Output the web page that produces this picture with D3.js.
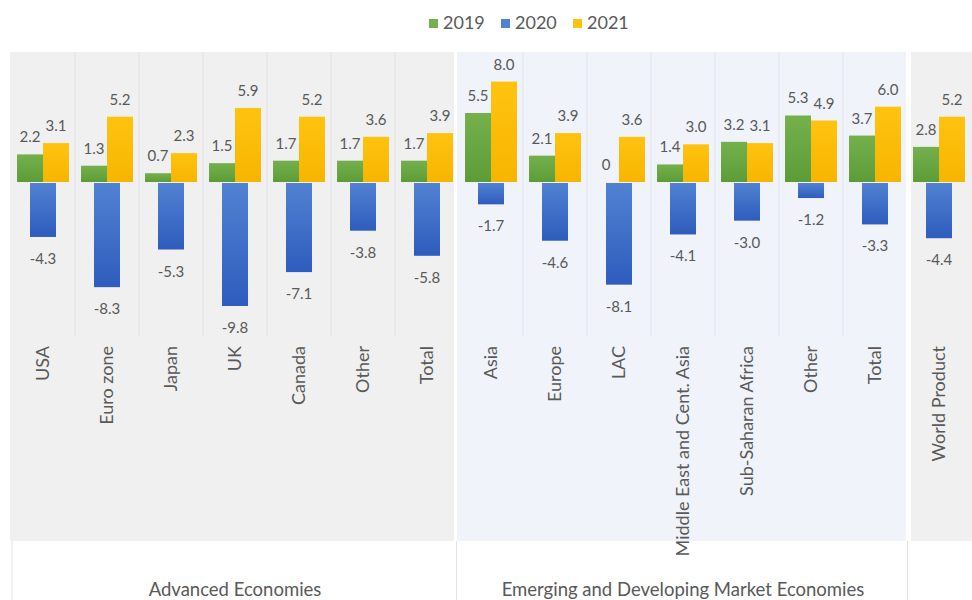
<!DOCTYPE html>
<html>
<head>
<meta charset="utf-8">
<script src="https://cdn.jsdelivr.net/npm/d3@7"></script>
<style>
  html, body { margin: 0; padding: 0; background: #ffffff; }
  svg { display: block; }
  text { font-family: Lato, "Open Sans", sans-serif; fill: #595959; }
</style>
</head>
<body>
<svg id="chart" width="972" height="600"></svg>
<script>
// Real GDP growth (%) by region, 2019–2021
const categories = ["USA", "Euro zone", "Japan", "UK", "Canada", "Other", "Total",
  "Asia", "Europe", "LAC", "Middle East and Cent. Asia", "Sub-Saharan Africa", "Other", "Total",
  "World Product"];
const groupNames = ["Advanced Economies", "Emerging and Developing Market Economies", ""];
const groupSizes = [7, 7, 1];
const seriesNames = ["2019", "2020", "2021"];
const values2019 = [2.2, 1.3, 0.7, 1.5, 1.7, 1.7, 1.7, 5.5, 2.1, 0, 1.4, 3.2, 5.3, 3.7, 2.8];
const values2020 = [-4.3, -8.3, -5.3, -9.8, -7.1, -3.8, -5.8, -1.7, -4.6, -8.1, -4.1, -3.0, -1.2, -3.3, -4.4];
const values2021 = [3.1, 5.2, 2.3, 5.9, 5.2, 3.6, 3.9, 8.0, 3.9, 3.6, 3.0, 3.1, 4.9, 6.0, 5.2];

const seriesValues = [values2019, values2020, values2021];
const seriesColors = [
  { top: "#74b14c", bottom: "#5c9c37" },
  { top: "#5082d2", bottom: "#2f5cbd" },
  { top: "#ffc30f", bottom: "#f7b500" }
];
const panelFills = ["#f0f0f0", "#f0f3f9", "#f0f0f0"];
const panelLines = ["#e5e5e5", "#e3e8f1", "#e5e5e5"];

const svg = d3.select("#chart");
const W = 972, H = 600;
const plotTop = 52, panelBottom = 541, gridBottom = 336;

const idx = categories.map((_, i) => i);
const x = d3.scaleBand().domain(idx).range([11, 971]).paddingInner(0).paddingOuter(0);
const y = d3.scaleLinear().domain([-10, 10]).range([182 + 125.5, 182 - 125.5]);
const barW = x.bandwidth() * 0.406;
const seriesOffset = d3.scaleLinear().domain([0, 2]).range([-barW, 0]);

// gradients
const defs = svg.append("defs");
seriesColors.forEach((c, i) => {
  const g = defs.append("linearGradient").attr("id", "grad" + i)
    .attr("x1", 0).attr("y1", 0).attr("x2", 0).attr("y2", 1);
  g.append("stop").attr("offset", "0%").attr("stop-color", c.top);
  g.append("stop").attr("offset", "100%").attr("stop-color", c.bottom);
});

// group panels
let start = 0;
const groups = groupSizes.map((n, gi) => {
  const g = { name: groupNames[gi], first: start, last: start + n - 1, gi };
  start += n;
  return g;
});
const groupX0 = g => x(g.first);
const groupX1 = g => x(g.last) + x.bandwidth();
const panelInset = [[-1, -5], [-2, -1], [4, 1]];

svg.append("g").selectAll("rect").data(groups).join("rect")
  .attr("x", g => groupX0(g) + panelInset[g.gi][0])
  .attr("y", plotTop)
  .attr("width", g => groupX1(g) + panelInset[g.gi][1] - groupX0(g) - panelInset[g.gi][0])
  .attr("height", panelBottom - plotTop)
  .attr("fill", g => panelFills[g.gi]);

// faint category separators inside each panel
const sepData = [];
groups.forEach(g => {
  for (let i = g.first + 1; i <= g.last; i++) sepData.push({ i, gi: g.gi });
});
svg.append("g").selectAll("line").data(sepData).join("line")
  .attr("x1", d => x(d.i)).attr("x2", d => x(d.i))
  .attr("y1", plotTop).attr("y2", gridBottom)
  .attr("stroke", d => panelLines[d.gi]).attr("stroke-width", 1.2);

// group boundary lines running down to the bottom
const boundaryX = [12, 456.5, 907.5];
svg.append("g").selectAll("line").data(boundaryX).join("line")
  .attr("x1", d => d).attr("x2", d => d)
  .attr("y1", panelBottom).attr("y2", H)
  .attr("stroke", "#e3e3e3").attr("stroke-width", 1);

// bars
const barData = [];
seriesValues.forEach((vals, s) => vals.forEach((v, i) => barData.push({ s, i, v })));
const barX = d => x(d.i) + x.bandwidth() / 2 + seriesOffset(d.s);

svg.append("g").selectAll("rect").data(barData).join("rect")
  .attr("x", barX)
  .attr("y", d => d.v >= 0 ? y(d.v) : y(0) + 1)
  .attr("width", barW)
  .attr("height", d => Math.abs(y(d.v) - y(0)))
  .attr("fill", d => `url(#grad${d.s})`);

// value labels (plain hyphen for negatives)
const fmt = v => v === 0 ? "0" : v.toFixed(1);
svg.append("g").selectAll("text").data(barData).join("text")
  .attr("x", d => barX(d) + barW / 2)
  .attr("y", d => d.v >= 0 ? y(d.v) - 12 : y(d.v) + 28)
  .attr("text-anchor", "middle")
  .attr("font-size", 15)
  .text(d => fmt(d.v));

// category labels (rotated)
svg.append("g").selectAll("text").data(idx).join("text")
  .attr("transform", i => `translate(${x(i) + x.bandwidth() / 2 + 6},346) rotate(-90)`)
  .attr("text-anchor", "end")
  .attr("font-size", 18)
  .text(i => categories[i]);

// group labels
svg.append("g").selectAll("text").data(groups.filter(g => g.name)).join("text")
  .attr("x", g => (groupX0(g) + groupX1(g)) / 2)
  .attr("y", 596)
  .attr("text-anchor", "middle")
  .attr("font-size", 18.5)
  .text(g => g.name);

// legend
const legendX = [429, 501, 573];
const legend = svg.append("g").selectAll("g").data(seriesNames).join("g")
  .attr("transform", (d, i) => `translate(${legendX[i]},19)`);
legend.append("rect").attr("width", 9).attr("height", 9)
  .attr("fill", (d, i) => seriesColors[i].top);
legend.append("text").attr("x", 14).attr("y", 10)
  .attr("font-size", 18).text(d => d);
</script>
</body>
</html>
